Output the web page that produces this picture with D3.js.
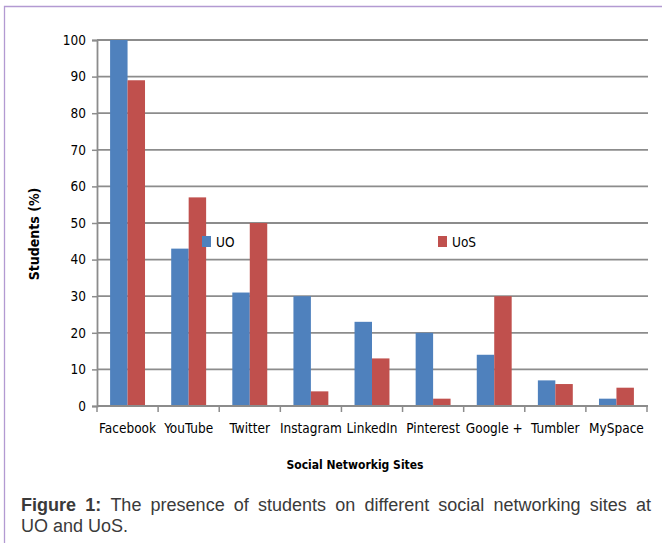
<!DOCTYPE html>
<html>
<head>
<meta charset="utf-8">
<script src="https://cdn.jsdelivr.net/npm/d3@7"></script>
<style>
  body { margin: 0; background: #fff; }
  svg { display: block; }
</style>
</head>
<body>
<div id="container"></div>
<script>
// data
const sites = ["Facebook", "YouTube", "Twitter", "Instagram", "LinkedIn", "Pinterest", "Google +", "Tumbler", "MySpace"];
const seriesNames = ["UO", "UoS"];
const uoValues = [100, 43, 31, 30, 23, 20, 14, 7, 2];
const uosValues = [89, 57, 50, 4, 13, 2, 30, 6, 5];
const yTicks = [0, 10, 20, 30, 40, 50, 60, 70, 80, 90, 100];
const colors = ["#4f81bd", "#c0504d"];

const W = 662, H = 546;
const chartFont = "'DejaVu Sans Condensed', 'Liberation Sans Narrow', sans-serif";
const gridColor = "#8c8c8c";

const svg = d3.select("#container")
    .append("svg")
    .attr("width", W)
    .attr("height", H);

// purple frame (top + left visible)
svg.append("path")
    .attr("d", "M4.5,543 L4.5,6.5 L662,6.5")
    .attr("fill", "none")
    .attr("stroke", "#b39ad2")
    .attr("stroke-width", 1.3);

// scales
const x = d3.scaleBand()
    .domain(sites)
    .range([97, 647]);

const x1 = d3.scaleBand()
    .domain(seriesNames)
    .range([0, x.bandwidth()])
    .paddingOuter(0.75);

const y = d3.scaleLinear()
    .domain([0, 100])
    .range([406, 40]);

// gridlines
svg.append("g")
    .selectAll("line")
    .data(yTicks.filter(t => t > 0))
    .enter()
    .append("line")
    .attr("x1", 97)
    .attr("x2", 648)
    .attr("y1", d => y(d))
    .attr("y2", d => y(d))
    .attr("stroke", gridColor)
    .attr("stroke-width", 1.8);

// bars
const rows = sites.map((s, i) => ({site: s, values: [uoValues[i], uosValues[i]]}));

svg.append("g")
    .selectAll("g")
    .data(rows)
    .enter()
    .append("g")
    .attr("transform", d => `translate(${x(d.site)},0)`)
    .selectAll("rect")
    .data(d => d.values.map((v, k) => ({key: seriesNames[k], value: v, k: k})))
    .enter()
    .append("rect")
    .attr("x", d => x1(d.key))
    .attr("width", x1.bandwidth())
    .attr("y", d => y(d.value))
    .attr("height", d => y(0) - y(d.value))
    .attr("fill", d => colors[d.k]);

// y axis
const yAxis = svg.append("g")
    .attr("transform", "translate(97,0)")
    .call(d3.axisLeft(y).tickValues(yTicks).tickSize(5).tickPadding(6));

// x axis
const xAxis = svg.append("g")
    .attr("transform", "translate(0,406)")
    .call(d3.axisBottom(x).tickSize(0).tickPadding(17));

// category boundary ticks like Excel
svg.append("g")
    .selectAll("line")
    .data(sites.concat(["end"]))
    .enter()
    .append("line")
    .attr("x1", (d, i) => i < sites.length ? x(d) : x.range()[1])
    .attr("x2", (d, i) => i < sites.length ? x(d) : x.range()[1])
    .attr("y1", 406)
    .attr("y2", 412)
    .attr("stroke", gridColor)
    .attr("stroke-width", 1.5);

[yAxis, xAxis].forEach(a => {
    a.select(".domain").attr("stroke", gridColor).attr("stroke-width", 1.8);
    a.selectAll(".tick line").attr("stroke", gridColor).attr("stroke-width", 1.5);
    a.selectAll("text")
        .attr("fill", "#000")
        .style("font-family", chartFont)
        .style("font-size", "13.5px");
});
xAxis.select(".domain").attr("d", "M97,0H648");

// axis titles
svg.append("text")
    .attr("transform", "translate(39,234) rotate(-90)")
    .attr("text-anchor", "middle")
    .style("font-family", chartFont)
    .style("font-weight", "bold")
    .style("font-size", "14px")
    .text("Students (%)");

svg.append("text")
    .attr("x", 355)
    .attr("y", 469)
    .attr("text-anchor", "middle")
    .style("font-family", chartFont)
    .style("font-weight", "bold")
    .style("font-size", "12px")
    .text("Social Networkig Sites");

// legend
const legendX = [202, 438];
seriesNames.forEach((name, i) => {
    svg.append("rect")
        .attr("x", legendX[i])
        .attr("y", 236)
        .attr("width", 9)
        .attr("height", 11)
        .attr("fill", colors[i]);
    svg.append("text")
        .attr("x", legendX[i] + 14)
        .attr("y", 246.5)
        .style("font-family", chartFont)
        .style("font-size", "13.5px")
        .text(name);
});

// caption, first line justified between 21 and 651
const captionFont = "'Liberation Sans', Arial, sans-serif";
const line1 = ["Figure", "1:", "The", "presence", "of", "students", "on", "different", "social", "networking", "sites", "at"];
const cap = svg.append("g")
    .style("font-family", captionFont)
    .style("font-size", "18px")
    .attr("fill", "#3a3a3a");

const words = cap.selectAll("text.w")
    .data(line1)
    .enter()
    .append("text")
    .attr("class", "w")
    .attr("y", 511)
    .style("font-weight", (d, i) => i < 2 ? "bold" : "normal")
    .text(d => d);

const widths = [];
words.each(function () { widths.push(this.getComputedTextLength()); });
const total = d3.sum(widths);
const gap = (651 - 21 - total) / (line1.length - 1);
let cx = 21;
words.attr("x", (d, i) => {
    const pos = cx;
    cx += widths[i] + gap;
    return pos;
});

cap.append("text")
    .attr("x", 21)
    .attr("y", 532)
    .text("UO and UoS.");
</script>
</body>
</html>
